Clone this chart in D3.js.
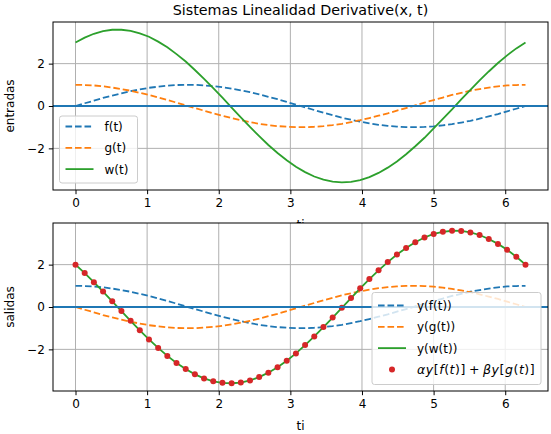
<!DOCTYPE html>
<html>
<head>
<meta charset="utf-8">
<script src="https://cdn.jsdelivr.net/npm/d3@7"></script>
<style>
  body { margin: 0; background: #fff; }
  svg { display: block; font-family: "DejaVu Sans", sans-serif; }
</style>
</head>
<body>
<div class="graph"></div>
<script>
// sample times (50 points from 0 to 2*pi)
const ti = [0, 0.1282, 0.2565, 0.3847, 0.5129, 0.6411, 0.7694, 0.8976, 1.0258, 1.1541,
  1.2823, 1.4105, 1.5387, 1.6670, 1.7952, 1.9234, 2.0517, 2.1799, 2.3081, 2.4363,
  2.5646, 2.6928, 2.8210, 2.9493, 3.0775, 3.2057, 3.3339, 3.4622, 3.5904, 3.7186,
  3.8468, 3.9751, 4.1033, 4.2315, 4.3598, 4.4880, 4.6162, 4.7444, 4.8727, 5.0009,
  5.1291, 5.2574, 5.3856, 5.5138, 5.6420, 5.7703, 5.8985, 6.0267, 6.1550, 6.2832];

// entradas
const fT = [0, 0.13, 0.25, 0.38, 0.49, 0.60, 0.70, 0.78, 0.86, 0.91, 0.96, 0.99, 1.00, 1.00,
  0.97, 0.94, 0.89, 0.82, 0.74, 0.65, 0.55, 0.43, 0.32, 0.19, 0.06, -0.06, -0.19, -0.32,
  -0.43, -0.55, -0.65, -0.74, -0.82, -0.89, -0.94, -0.97, -1.00, -1.00, -0.99, -0.96,
  -0.91, -0.86, -0.78, -0.70, -0.60, -0.49, -0.38, -0.25, -0.13, 0];
const gT = [1, 0.99, 0.97, 0.93, 0.87, 0.80, 0.72, 0.62, 0.52, 0.40, 0.28, 0.16, 0.03, -0.10,
  -0.22, -0.35, -0.46, -0.57, -0.67, -0.76, -0.84, -0.90, -0.95, -0.98, -1.00, -1.00, -0.98,
  -0.95, -0.90, -0.84, -0.76, -0.67, -0.57, -0.46, -0.35, -0.22, -0.10, 0.03, 0.16, 0.28,
  0.40, 0.52, 0.62, 0.72, 0.80, 0.87, 0.93, 0.97, 0.99, 1];
const wT = [3.00, 3.23, 3.41, 3.53, 3.60, 3.60, 3.55, 3.43, 3.27, 3.04, 2.77, 2.45, 2.10, 1.70,
  1.28, 0.84, 0.39, -0.08, -0.54, -0.99, -1.42, -1.84, -2.22, -2.56, -2.87, -3.12, -3.33,
  -3.48, -3.57, -3.61, -3.58, -3.50, -3.36, -3.16, -2.91, -2.62, -2.28, -1.90, -1.50, -1.06,
  -0.61, -0.16, 0.31, 0.76, 1.21, 1.63, 2.03, 2.39, 2.72, 3.00];

// salidas
const yF = [1, 0.99, 0.97, 0.93, 0.87, 0.80, 0.72, 0.62, 0.52, 0.40, 0.28, 0.16, 0.03, -0.10,
  -0.22, -0.35, -0.46, -0.57, -0.67, -0.76, -0.84, -0.90, -0.95, -0.98, -1.00, -1.00, -0.98,
  -0.95, -0.90, -0.84, -0.76, -0.67, -0.57, -0.46, -0.35, -0.22, -0.10, 0.03, 0.16, 0.28,
  0.40, 0.52, 0.62, 0.72, 0.80, 0.87, 0.93, 0.97, 0.99, 1];
const yG = [0, -0.13, -0.25, -0.38, -0.49, -0.60, -0.70, -0.78, -0.86, -0.91, -0.96, -0.99,
  -1.00, -1.00, -0.97, -0.94, -0.89, -0.82, -0.74, -0.65, -0.55, -0.43, -0.32, -0.19, -0.06,
  0.06, 0.19, 0.32, 0.43, 0.55, 0.65, 0.74, 0.82, 0.89, 0.94, 0.97, 1.00, 1.00, 0.99, 0.96,
  0.91, 0.86, 0.78, 0.70, 0.60, 0.49, 0.38, 0.25, 0.13, 0];
const yW = [2.00, 1.60, 1.17, 0.73, 0.27, -0.19, -0.65, -1.10, -1.53, -1.93, -2.31, -2.64,
  -2.93, -3.18, -3.37, -3.51, -3.58, -3.60, -3.57, -3.47, -3.31, -3.10, -2.84, -2.54, -2.19,
  -1.80, -1.39, -0.95, -0.50, -0.04, 0.42, 0.88, 1.32, 1.73, 2.12, 2.48, 2.79, 3.06, 3.28,
  3.45, 3.55, 3.60, 3.59, 3.52, 3.40, 3.21, 2.98, 2.70, 2.37, 2.00];
const yCombo = [2.00, 1.60, 1.17, 0.73, 0.27, -0.19, -0.65, -1.10, -1.53, -1.93, -2.31, -2.64,
  -2.93, -3.18, -3.37, -3.51, -3.58, -3.60, -3.57, -3.47, -3.31, -3.10, -2.84, -2.54, -2.19,
  -1.80, -1.39, -0.95, -0.50, -0.04, 0.42, 0.88, 1.32, 1.73, 2.12, 2.48, 2.79, 3.06, 3.28,
  3.45, 3.55, 3.60, 3.59, 3.52, 3.40, 3.21, 2.98, 2.70, 2.37, 2.00];

const xTicks = [0, 1, 2, 3, 4, 5, 6];
const yTicks = [-2, 0, 2];

const C0 = "#1f77b4", C1 = "#ff7f0e", C2 = "#2ca02c", C3 = "#d62728";
const W = 551, H = 434;
const left = 53, right = 548;

let svg = d3.select(".graph").append("svg")
    .attr("width", W)
    .attr("height", H);
svg.append("rect").attr("width", W).attr("height", H).attr("fill", "#fff");

let x = d3.scaleLinear().domain([-0.3142, 6.5973]).range([left, right]);

function panel(top, bottom, series, axLabel, legend) {
    let y = d3.scaleLinear().domain([-3.966, 3.966]).range([bottom, top]);

    // axes background (covers anything from panel above)
    svg.append("rect")
        .attr("x", left).attr("y", top)
        .attr("width", right - left).attr("height", bottom - top)
        .attr("fill", "#fff");

    let plot = svg.append("g");
    // grid
    plot.selectAll(".gx").data(xTicks).enter().append("line")
        .attr("x1", d => x(d)).attr("x2", d => x(d))
        .attr("y1", top).attr("y2", bottom)
        .attr("stroke", "#b0b0b0").attr("stroke-width", 1);
    plot.selectAll(".gy").data(yTicks).enter().append("line")
        .attr("x1", left).attr("x2", right)
        .attr("y1", d => y(d)).attr("y2", d => y(d))
        .attr("stroke", "#b0b0b0").attr("stroke-width", 1);

    let clip = "clip" + top;
    svg.append("clipPath").attr("id", clip).append("rect")
        .attr("x", left).attr("y", top)
        .attr("width", right - left).attr("height", bottom - top);
    let marks = plot.append("g").attr("clip-path", "url(#" + clip + ")");

    series.forEach(s => {
        if (s.dots) {
            marks.selectAll(null).data(s.values).enter().append("circle")
                .attr("cx", (d, i) => x(ti[i]))
                .attr("cy", d => y(d))
                .attr("r", 3)
                .attr("fill", s.color);
        } else {
            let line = d3.line().x((d, i) => x(ti[i])).y(d => y(d));
            marks.append("path")
                .attr("d", line(s.values))
                .attr("fill", "none")
                .attr("stroke", s.color)
                .attr("stroke-width", 1.8)
                .attr("stroke-dasharray", s.dash ? "6.6,2.9" : null);
        }
    });

    // horizontal zero line
    marks.append("line")
        .attr("x1", left).attr("x2", right)
        .attr("y1", y(0)).attr("y2", y(0))
        .attr("stroke", C0).attr("stroke-width", 1.8);

    // axes
    let gx = svg.append("g")
        .attr("transform", "translate(0," + bottom + ")")
        .call(d3.axisBottom(x).tickValues(xTicks).tickSize(4.2).tickPadding(4).tickFormat(d3.format("d")));
    let gy = svg.append("g")
        .attr("transform", "translate(" + left + ",0)")
        .call(d3.axisLeft(y).tickValues(yTicks).tickSize(4.2).tickPadding(4)
            .tickFormat(d => d < 0 ? "\u2212" + Math.abs(d) : d));
    [gx, gy].forEach(g => {
        g.select(".domain").remove();
        g.selectAll("line").attr("stroke", "#000").attr("stroke-width", 1);
        g.selectAll("text").attr("font-family", "DejaVu Sans").attr("font-size", 12).attr("fill", "#000");
    });

    // spines
    svg.append("rect")
        .attr("x", left).attr("y", top)
        .attr("width", right - left).attr("height", bottom - top)
        .attr("fill", "none").attr("stroke", "#000").attr("stroke-width", 1);

    // labels
    svg.append("text")
        .attr("x", (left + right) / 2).attr("y", bottom + 38.5)
        .attr("text-anchor", "middle").attr("font-size", 12)
        .text("ti");
    svg.append("text")
        .attr("transform", "translate(13.5," + ((top + bottom) / 2) + ") rotate(-90)")
        .attr("text-anchor", "middle").attr("font-size", 12)
        .text(axLabel);

    // legend
    let lg = svg.append("g");
    lg.append("rect")
        .attr("x", legend.x).attr("y", legend.y)
        .attr("width", legend.w).attr("height", legend.h)
        .attr("rx", 2.5)
        .attr("fill", "#fff").attr("fill-opacity", 0.8)
        .attr("stroke", "#cccccc").attr("stroke-width", 1);
    series.forEach((s, i) => {
        let cy = legend.y + legend.first + i * legend.step;
        let hx = legend.x + 6;
        if (s.dots) {
            lg.append("circle").attr("cx", hx + 14).attr("cy", cy).attr("r", 3).attr("fill", s.color);
        } else {
            lg.append("line")
                .attr("x1", hx).attr("x2", hx + 28)
                .attr("y1", cy).attr("y2", cy)
                .attr("stroke", s.color).attr("stroke-width", 1.8)
                .attr("stroke-dasharray", s.dash ? "6.6,2.9" : null);
        }
        let t = lg.append("text")
            .attr("x", hx + 39).attr("y", cy + 4.5)
            .attr("font-size", 12);
        if (s.parts) {
            t.attr("letter-spacing", 0.55).attr("font-size", 12.5);
            s.parts.forEach(p => {
                t.append("tspan")
                    .attr("font-style", p[1] ? "italic" : "normal")
                    .text(p[0]);
            });
        } else {
            t.text(s.label);
        }
    });
}

panel(22, 190, [
    {values: fT, color: C0, dash: true, label: "f(t)"},
    {values: gT, color: C1, dash: true, label: "g(t)"},
    {values: wT, color: C2, dash: false, label: "w(t)"}
], "entradas", {x: 59.5, y: 116, w: 78, h: 67, first: 10.5, step: 21.3});

panel(223, 391, [
    {values: yF, color: C0, dash: true, label: "y(f(t))"},
    {values: yG, color: C1, dash: true, label: "y(g(t))"},
    {values: yW, color: C2, dash: false, label: "y(w(t))"},
    {values: yCombo, color: C3, dots: true,
     parts: [["\u03b1y", 1], ["[", 0], ["f", 1], ["(", 0], ["t", 1], [")]\u2009+\u2009", 0],
             ["\u03b2y", 1], ["[", 0], ["g", 1], ["(", 0], ["t", 1], [")]", 0]]}
], "salidas", {x: 372, y: 292.5, w: 169, h: 92, first: 13, step: 21.3});

// title
svg.append("text")
    .attr("x", (left + right) / 2).attr("y", 15)
    .attr("text-anchor", "middle").attr("font-size", 14.3)
    .text("Sistemas Linealidad Derivative(x, t)");
</script>
</body>
</html>
